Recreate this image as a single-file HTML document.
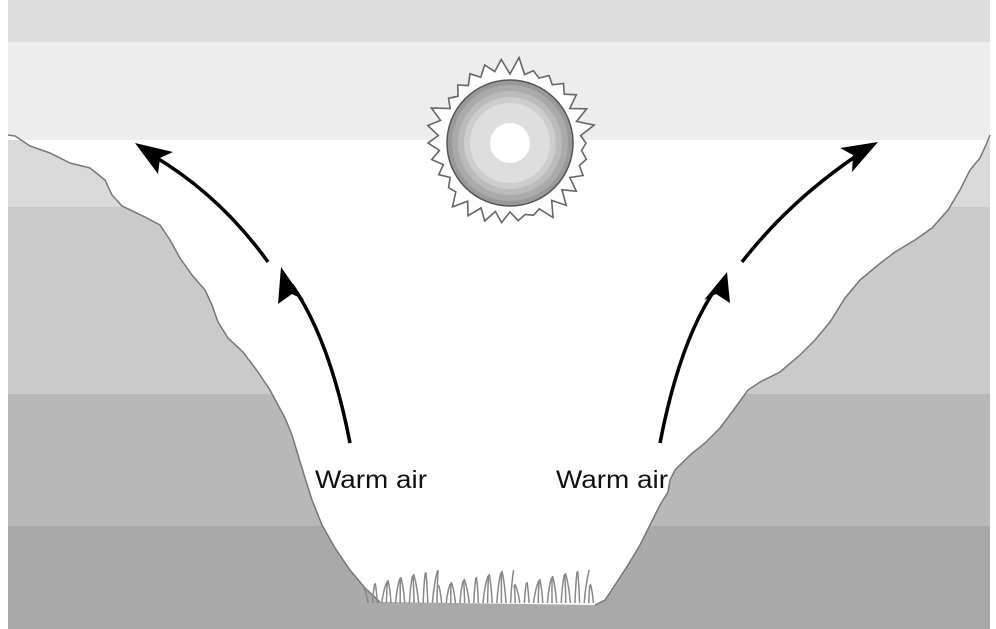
<!DOCTYPE html>
<html><head><meta charset="utf-8"><style>
html,body{margin:0;padding:0;background:#fff;}
svg{display:block;}
text{font-family:"Liberation Sans",Arial,sans-serif;font-size:25px;fill:#111;}
</style></head><body>
<svg width="996" height="629" viewBox="0 0 996 629" xmlns="http://www.w3.org/2000/svg">
<rect x="8" y="0" width="982" height="42" fill="#dcdcdc"/>
<rect x="8" y="42" width="982" height="98" fill="#ededed"/>
<rect x="8" y="140" width="982" height="67" fill="#dadada"/>
<rect x="8" y="207" width="982" height="187" fill="#cacaca"/>
<rect x="8" y="394" width="982" height="132" fill="#b8b8b8"/>
<rect x="8" y="526" width="982" height="103" fill="#a9a9a9"/>
<path d="M8,135 L15,136 L30,146 L50,153 L70,163 L90,168 L105,180 L112,195 L122,206 L145,217 L160,225 L170,240 L180,258 L192,275 L205,290 L212,305 L218,322 L228,338 L243,352 L258,372 L270,390 L278,405 L285,418 L292,435 L298,455 L305,478 L312,500 L322,525 L335,548 L350,570 L365,588 L380,602 L595,605 L605,600 L615,585 L628,565 L640,545 L650,525 L660,505 L668,492 L670,480 L675,470 L690,455 L705,443 L720,428 L735,408 L748,390 L760,382 L780,372 L800,355 L815,340 L830,322 L845,298 L860,280 L878,265 L895,252 L915,240 L932,228 L948,210 L960,190 L970,170 L980,158 L986,145 L990,135 L990,140 L8,140 Z" fill="#fff"/>
<path d="M8,135 L15,136 L30,146 L50,153 L70,163 L90,168 L105,180 L112,195 L122,206 L145,217 L160,225 L170,240 L180,258 L192,275 L205,290 L212,305 L218,322 L228,338 L243,352 L258,372 L270,390 L278,405 L285,418 L292,435 L298,455 L305,478 L312,500 L322,525 L335,548 L350,570 L365,588 L380,602" fill="none" stroke="#777" stroke-width="1.5"/>
<path d="M595,605 L605,600 L615,585 L628,565 L640,545 L650,525 L660,505 L668,492 L670,480 L675,470 L690,455 L705,443 L720,428 L735,408 L748,390 L760,382 L780,372 L800,355 L815,340 L830,322 L845,298 L860,280 L878,265 L895,252 L915,240 L932,228 L948,210 L960,190 L970,170 L980,158 L986,145 L990,135" fill="none" stroke="#777" stroke-width="1.5"/>
<g id="grass" stroke="#888" stroke-width="1.5" fill="none"></g>
<path id="rays" fill="#fff" stroke="#666" stroke-width="1.6"/>
<circle cx="510" cy="143" r="63" fill="#999" stroke="#555" stroke-width="1.5"/>
<circle cx="510" cy="143" r="58" fill="#aaa"/>
<circle cx="510" cy="143" r="52" fill="#bbb"/>
<circle cx="510" cy="143" r="46" fill="#cdcdcd"/>
<circle cx="510" cy="143" r="40" fill="#dedede"/>
<circle cx="510" cy="143" r="20" fill="#fff"/>
<g stroke="#000" stroke-width="3.5" fill="none">
<path d="M350,443 Q330,340 292,285"/>
<path d="M268,262 Q220,195 152,155"/>
<path d="M660,443 Q680,340 716,288"/>
<path d="M742,262 Q790,200 862,152"/>
</g>
<g fill="#000">
<polygon points="135,143 173,152 160,158 158,174"/>
<polygon points="281,267 304,300 292,294 278,304"/>
<polygon points="878,142 840,148 853,155 852,172"/>
<polygon points="727,272 704,300 716,294 730,303"/>
</g>
<text x="315" y="488" textLength="112" lengthAdjust="spacingAndGlyphs">Warm air</text>
<text x="556" y="488" textLength="112" lengthAdjust="spacingAndGlyphs">Warm air</text>
</svg>
<script>
(function(){
var cx=510,cy=143,n=30,d="";
for(var i=0;i<n*2;i++){
 var a=i/(n*2)*Math.PI*2;
 var r=(i%2==0)?(76+((i*37)%12)):(69+((i*13)%5));
 var x=cx+r*Math.cos(a),y=cy+r*Math.sin(a);
 d+=(i==0?"M":"L")+x.toFixed(1)+","+y.toFixed(1)+" ";
}
document.getElementById("rays").setAttribute("d",d+"Z");
var g=document.getElementById("grass"),s="";
for(var j=0;j<50;j++){
 var x=368+j*4.6, h=18+((j*17)%16), lean=((j*7)%11)-5;
 s+='<path d="M'+x+',603 Q'+(x+lean*0.3)+','+(603-h*0.6)+' '+(x+lean)+','+(603-h)+'"/>';
}
g.innerHTML=s;
})();
</script>
</body></html>
